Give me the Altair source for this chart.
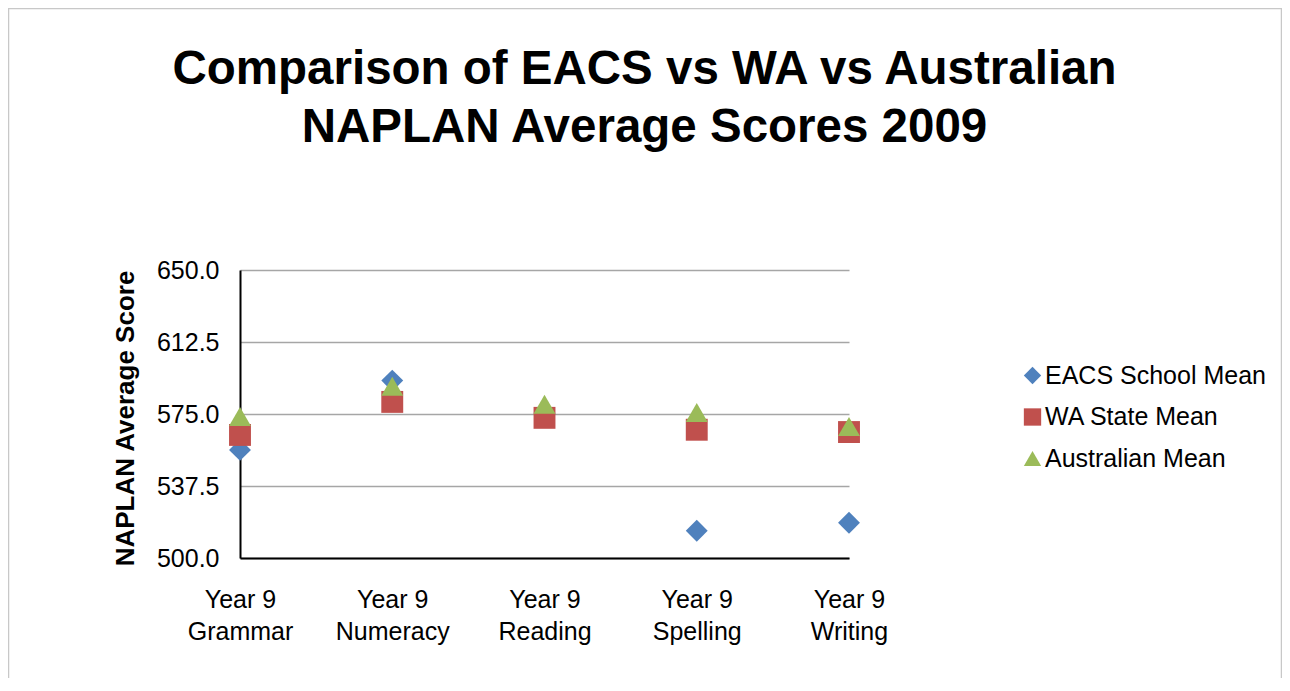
import altair as alt
import pandas as pd

categories = ["Year 9 Grammar", "Year 9 Numeracy", "Year 9 Reading", "Year 9 Spelling", "Year 9 Writing"]
series_names = ["EACS School Mean", "WA State Mean", "Australian Mean"]
eacs = [556.3, 592.4, 575.5, 514.2, 518.4]
wa = [564.1, 581.3, 573.0, 566.8, 565.6]
aus = [573.7, 589.4, 580.1, 575.8, 568.5]
y_ticks = [500.0, 537.5, 575.0, 612.5, 650.0]
colors = ["#4F81BD", "#C0504D", "#9BBB59"]
shapes = ["diamond", "square", "triangle-up"]

rows = []
for name, vals in zip(series_names, [eacs, wa, aus]):
    for c, v in zip(categories, vals):
        rows.append({"category": c, "series": name, "value": v})
df = pd.DataFrame(rows)

FONT = "Liberation Sans"
W, H = 609, 288

points = alt.Chart(df).mark_point(filled=True, opacity=1, size=480).encode(
    x=alt.X("category:N", sort=categories,
            scale=alt.Scale(type="point", padding=0),
            axis=alt.Axis(title=None, labelAngle=0, ticks=False, grid=False,
                          domainColor="#000000", domainWidth=2,
                          labelFont=FONT, labelFontSize=25, labelColor="#000000",
                          labelPadding=29, labelLineHeight=32.5,
                          labelExpr="[slice(datum.label, 0, 6), slice(datum.label, 7)]")),
    y=alt.Y("value:Q", scale=alt.Scale(domain=[500, 650], nice=False, zero=False),
            axis=alt.Axis(values=y_ticks, format=".1f", title="NAPLAN Average Score",
                          ticks=False, domainColor="#000000", domainWidth=2,
                          gridColor="#a6a6a6", gridWidth=1.5,
                          labelFont=FONT, labelFontSize=25, labelColor="#000000",
                          labelPadding=21,
                          titleFont=FONT, titleFontSize=26, titleFontWeight="bold",
                          titleColor="#000000", titleX=-115, titleY=148,
                          titleBaseline="middle", titleAlign="center", titleAngle=-90)),
    color=alt.Color("series:N", sort=series_names,
                    scale=alt.Scale(domain=series_names, range=colors),
                    legend=alt.Legend(title=None, orient="none", legendX=780, legendY=93,
                                      labelFont=FONT, labelFontSize=25, labelColor="#000000",
                                      labelLimit=400,
                                      symbolSize=300, labelOffset=0, rowPadding=15.5,
                                      symbolStrokeWidth=0)),
    shape=alt.Shape("series:N", sort=series_names,
                    scale=alt.Scale(domain=series_names, range=shapes)),
)

border = alt.Chart(pd.DataFrame({"a": [0]})).mark_rect(
    fill="transparent", stroke="#c8c8c8", strokeWidth=1.5
).encode(
    x=alt.value(-231.5), x2=alt.value(1041.5),
    y=alt.value(-261.5), y2=alt.value(420),
)

chart = alt.layer(border, points).properties(
    width=W, height=H,
    background="white",
    autosize=alt.AutoSizeParams(type="none"),
    padding={"left": 232, "top": 262, "right": 433, "bottom": 120},
    title=alt.TitleParams(
        text=["Comparison of EACS vs WA vs Australian", "NAPLAN Average Scores 2009"],
        font=FONT, fontSize=47.5, fontWeight="bold", color="#000000",
        lineHeight=58, anchor="middle", dx=100, offset=-144,
    ),
).configure_view(strokeWidth=0, stroke="transparent")

chart.save("out.html", embed_options={"renderer": "svg", "actions": False})
